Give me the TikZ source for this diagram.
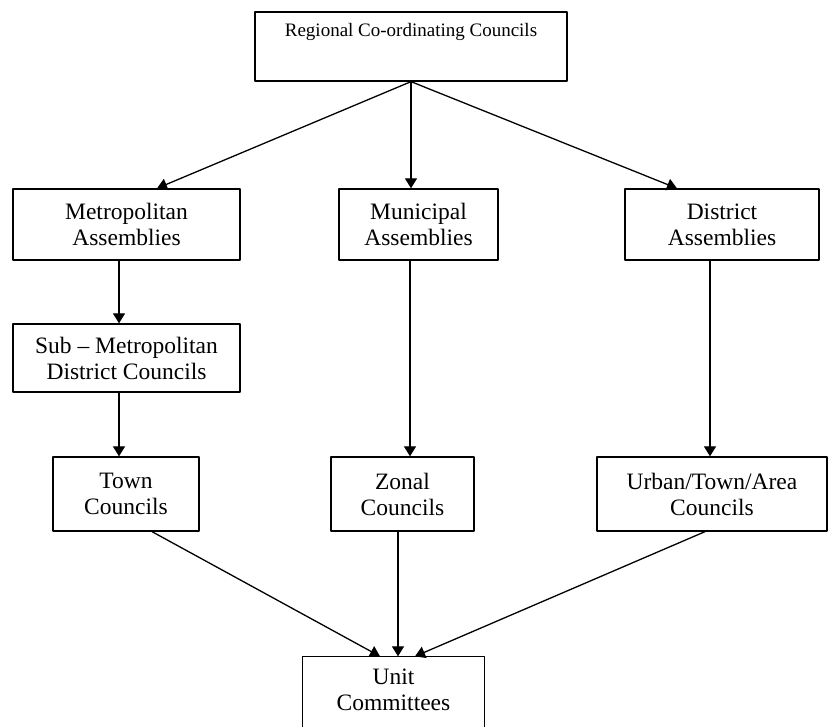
\documentclass[tikz,border=0pt]{standalone}
\usepackage{fontspec}
\setmainfont{Liberation Serif}
\usetikzlibrary{arrows.meta}
\begin{document}
\begin{tikzpicture}[x=1pt,y=1pt,line join=round,>={Triangle[length=10pt,width=12pt]},
	box/.style={draw,line width=1.3pt,inner sep=0pt,align=center,minimum height=71pt,font=\fontsize{23.5}{26}\selectfont},
	link/.style={->,line width=1.3pt}]
	\useasboundingbox (0,0) rectangle (829,727);
	% top level
	\node[box,minimum height=0pt,minimum width=312pt,text height=25pt,text depth=44pt,anchor=base,font=\fontsize{19}{22}\selectfont] (rcc) at (411,690) {Regional Co-ordinating Councils};
	% assemblies
	\node[box,minimum width=227pt] (metro) at (126.5,502.5) {Metropolitan\\Assemblies};
	\node[box,minimum width=159pt] (muni) at (418.5,502.5) {Municipal\\Assemblies};
	\node[box,minimum width=194pt] (dist) at (722,502.5) {District\\Assemblies};
	\node[box,minimum width=227pt,minimum height=68pt] (sub) at (126.5,369) {Sub – Metropolitan\\District Councils};
	% councils
	\node[box,minimum width=146pt,minimum height=74pt] (town) at (126,233) {Town\\Councils};
	\node[box,minimum width=143pt,minimum height=74pt] (zonal) at (402.5,233) {Zonal\\Councils};
	\node[box,minimum width=230pt,minimum height=74pt] (urban) at (712,233) {Urban/Town/Area\\Councils};
	\node[box,draw=none,minimum width=181pt,minimum height=66pt] (unit) at (393.5,37) {Unit\\Committees};
	\draw[line width=1.3pt] ([yshift=-12pt]unit.south west)--(unit.north west)--(unit.north east)--([yshift=-12pt]unit.south east);
	% connectors
	\draw[link] (rcc.south)--([xshift=30.5pt]metro.north);
	\draw[link] (rcc.south)--(rcc.south |- muni.north);
	\draw[link] (rcc.south)--([xshift=-45pt]dist.north);
	\draw[link] ([xshift=-7.5pt]metro.south)--([xshift=-7.5pt]sub.north);
	\draw[link] ([xshift=-7.5pt]sub.south)--([xshift=-7pt]town.north);
	\draw[link] ([xshift=-8.5pt]muni.south)--([xshift=-8.5pt]muni.south |- zonal.north);
	\draw[link] ([xshift=-12pt]dist.south)--([xshift=-12pt]dist.south |- urban.north);
	\draw[link] ([xshift=26pt]town.south)--([xshift=-13.5pt]unit.north);
	\draw[link] ([xshift=-4.5pt]zonal.south)--([xshift=4.5pt]unit.north);
	\draw[link] ([xshift=-7pt]urban.south)--([xshift=21.5pt]unit.north);
\end{tikzpicture}
\end{document}
